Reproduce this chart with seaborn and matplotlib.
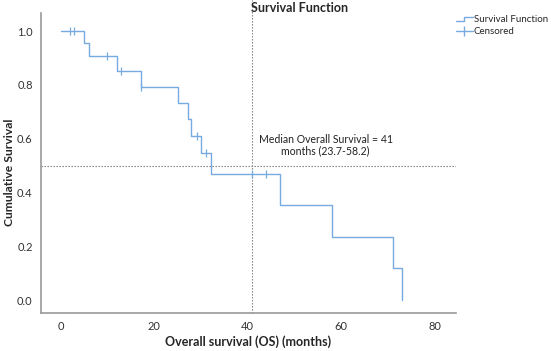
import numpy as np
import pandas as pd
import seaborn as sns
import matplotlib.pyplot as plt
from matplotlib.lines import Line2D
from matplotlib.legend_handler import HandlerBase

# steps of the Kaplan-Meier curve
tempos = [0, 5.05, 6.1, 12.1, 17.1, 25.2, 27.2, 28.0, 30.1, 32.1, 47.0, 58.1, 71.1, 73.1]
sobrevida = [1.0, 0.957, 0.908, 0.852, 0.793, 0.731, 0.672, 0.611, 0.545, 0.467, 0.353, 0.235, 0.118, 0.0]
censurados = [2.0, 2.9, 10.0, 12.9, 17.1, 29.1, 31.1, 41.0, 44.0]
mediana = 41
xticks = [0, 20, 40, 60, 80]
yticks = [0.0, 0.2, 0.4, 0.6, 0.8, 1.0]

COR = "#76aae0"
CINZA = "#999999"

curva = pd.DataFrame({"t": tempos, "s": sobrevida})
idx = np.searchsorted(tempos, censurados, side="right") - 1
cens = pd.DataFrame({"t": censurados, "s": np.array(sobrevida)[idx]})

sns.set_style("white")
plt.rcParams["font.family"] = ["Lato", "DejaVu Sans"]

fig = plt.figure(figsize=(5.51, 3.51), dpi=100)
ax = fig.add_axes([41/551, 1-313/351, (456-41)/551, (313-13)/351])

sns.lineplot(data=curva, x="t", y="s", drawstyle="steps-post", estimator=None,
             color=COR, linewidth=1.0, ax=ax)
sns.scatterplot(data=cens, x="t", y="s", marker="|", s=30, color=COR,
                linewidth=0.9, ax=ax, zorder=3)

ax.axhline(0.5, color="#777777", linestyle=(0, (1.2, 1.5)), linewidth=0.8)
ax.axvline(mediana, ymin=0, ymax=1.045, clip_on=False, color="#777777",
           linestyle=(0, (1.2, 1.5)), linewidth=0.8)

ax.text(56.7, 0.533, "Median Overall Survival = 41\nmonths (23.7-58.2)",
        ha="center", va="bottom", fontsize=7.6, color="#222222", linespacing=1.1)

ax.set_xlim(-4.2, 84.6)
ax.set_ylim(-0.048, 1.067)
ax.set_xticks(xticks)
ax.set_yticks(yticks)
ax.set_yticklabels([f"{v:.1f}" for v in yticks])
ax.tick_params(axis="both", length=0, labelsize=8, labelcolor="#333333", pad=6)

for lado in ["top", "right"]:
    ax.spines[lado].set_visible(False)
for lado in ["left", "bottom"]:
    ax.spines[lado].set_color(CINZA)
    ax.spines[lado].set_linewidth(1.2)

ax.set_xlabel("Overall survival (OS) (months)", fontsize=9, fontweight="bold")
ax.set_ylabel("Cumulative Survival", fontsize=8.7, fontweight="bold")
ax.xaxis.set_label_coords(0.5, -0.075)
ax.yaxis.set_label_coords(-0.062, 0.47)
fig.text(300/551, 1-8/351, "Survival Function", ha="center", va="center",
         fontsize=9, fontweight="bold")


class HandlerDegrau(HandlerBase):
    def create_artists(self, legend, orig, xd, yd, w, h, fontsize, trans):
        xs = np.array([0, 0.5, 0.5, 1.0]) * w - xd
        ys = np.array([0.15, 0.15, 0.75, 0.75]) * h - yd
        return [Line2D(xs, ys, color=COR, linewidth=1.0, transform=trans)]


h_surv = Line2D([], [], color=COR, linewidth=1.0)
h_cens = Line2D([], [], color=COR, linewidth=1.0, marker="|", markersize=7)
fig.legend([h_surv, h_cens], ["Survival Function", "Censored"],
           handler_map={h_surv: HandlerDegrau()},
           loc="upper left", bbox_to_anchor=(456/551, 1-15/351), frameon=False,
           fontsize=7, handlelength=1.7, handletextpad=0.1, labelspacing=0.3,
           borderaxespad=0, borderpad=0)

fig.savefig("out.png", dpi=100)
